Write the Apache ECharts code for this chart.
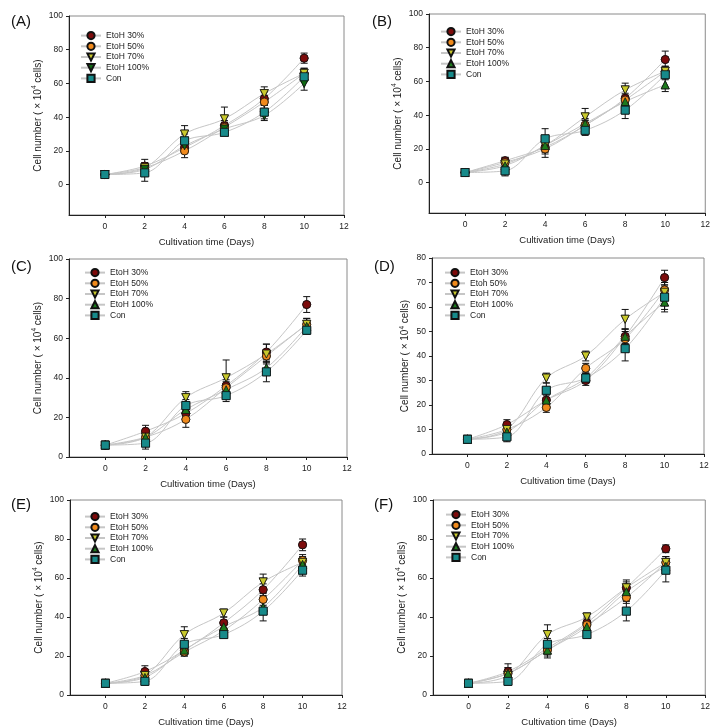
<!DOCTYPE html>
<html>
<head>
<meta charset="utf-8">
<script src="https://cdn.jsdelivr.net/npm/echarts@6/dist/echarts.min.js"></script>
<style>
  html, body { margin: 0; padding: 0; background: #fff; }
  #chart { width: 713px; height: 728px; }
</style>
</head>
<body>
<div id="chart"></div>
<script>
// x values and tick labels
var days = [0, 2, 4, 6, 8, 10];
var xTicks = [0, 2, 4, 6, 8, 10, 12];
var yTicks100 = [0, 20, 40, 60, 80, 100];
var yTicks80 = [0, 10, 20, 30, 40, 50, 60, 70, 80];

// (A)
var A30 = [6, 11, 22, 35, 51, 75],  A30e = [1, 4, 3, 3, 4, 3];
var A50 = [6, 10, 20, 34, 49, 66],  A50e = [1, 3, 4, 3, 4, 3];
var A70 = [6, 10, 30, 39, 54, 66],  A70e = [1, 3, 5, 7, 4, 3];
var A100 = [6, 9, 23, 33, 41, 60],  A100e = [1, 3, 3, 3, 3, 4];
var ACon = [6, 7, 26, 31, 43, 64],  AConE = [1, 5, 4, 2, 4, 3];
// (B)
var B30 = [6, 13, 21, 34, 50, 73],  B30e = [1, 2, 4, 3, 3, 5];
var B50 = [6, 12, 20, 34, 49, 66],  B50e = [1, 3, 5, 3, 3, 3];
var B70 = [6, 11, 22, 39, 55, 66],  B70e = [1, 3, 4, 5, 4, 3];
var B100 = [6, 10, 22, 35, 48, 58], B100e = [1, 3, 3, 3, 3, 4];
var BCon = [6, 7, 26, 31, 43, 64],  BConE = [2, 3, 6, 3, 5, 3];
// (C)
var C30 = [6, 13, 22, 36, 53, 77],  C30e = [1, 3, 3, 3, 4, 4];
var C50 = [6, 10, 19, 35, 51, 67],  C50e = [1, 3, 4, 3, 3, 3];
var C70 = [6, 10, 30, 40, 52, 67],  C70e = [1, 3, 3, 9, 5, 3];
var C100 = [6, 10, 24, 34, 45, 66], C100e = [1, 3, 3, 3, 3, 3];
var CCon = [6, 7, 26, 31, 43, 64],  CConE = [1, 3, 3, 3, 5, 2];
// (D)
var D30 = [6, 12, 22, 30, 48, 72],  D30e = [1, 2, 3, 2, 3, 3];
var D50 = [6, 10, 19, 35, 47, 67],  D50e = [1, 2, 2, 2, 3, 3];
var D70 = [6, 10, 31, 40, 55, 66],  D70e = [1, 2, 2, 2, 4, 3];
var D100 = [6, 9, 22, 31, 48, 62],  D100e = [1, 2, 2, 2, 3, 3];
var DCon = [6, 7, 26, 31, 43, 64],  DConE = [1, 2, 3, 2, 5, 6];
// (E)
var E30 = [6, 12, 23, 37, 54, 77],  E30e = [1, 3, 3, 3, 3, 3];
var E50 = [6, 10, 22, 33, 49, 69],  E50e = [1, 3, 2, 3, 3, 3];
var E70 = [6, 10, 31, 42, 58, 68],  E70e = [1, 3, 4, 2, 4, 3];
var E100 = [6, 9, 23, 35, 45, 67],  E100e = [1, 2, 2, 2, 3, 3];
var ECon = [6, 7, 26, 31, 43, 64],  EConE = [1, 2, 3, 2, 5, 3];
// (F)
var F30 = [6, 12, 24, 37, 55, 75],  F30e = [1, 4, 3, 3, 3, 2];
var F50 = [6, 11, 23, 36, 50, 68],  F50e = [1, 3, 3, 3, 3, 3];
var F70 = [6, 10, 31, 40, 55, 68],  F70e = [1, 3, 5, 2, 4, 3];
var F100 = [6, 11, 23, 35, 53, 66], F100e = [1, 3, 4, 3, 3, 3];
var FCon = [6, 7, 26, 31, 43, 64],  FConE = [1, 2, 3, 2, 5, 6];

var names = ['EtoH 30%', 'EtoH 50%', 'EtoH 70%', 'EtoH 100%', 'Con'];
var namesA = ['EtoH 30%', 'EtoH 50%', 'EtoH 70%', 'EtoH 100% ', 'Con']; // A uses a down triangle for 100%
var namesD = ['EtoH 30%', 'Etoh 50%', 'EtoH 70%', 'EtoH 100%', 'Con'];

var downTri = 'path://M0,0L10,0L5,9Z';
var colors = ['#7d0b0b', '#f08a1c', '#c9c92c', '#1c7a1c', '#178a8a'];
var symbols = ['circle', 'circle', downTri, 'triangle', 'rect'];

var panels = [
  {tag: '(A)', tx: 6, ty: 9, left: 69, top: 16, width: 275, height: 199, xMin: -1.8, yMin: -18, yMax: 100, yTicks: yTicks100,
   lg: [75, 26], names: namesA, means: [A30, A50, A70, A100, ACon], errs: [A30e, A50e, A70e, A100e, AConE], sym100: downTri, col100: '#0f6a12'},
  {tag: '(B)', tx: 367, ty: 9, left: 429, top: 14, width: 278, height: 199, xMin: -1.8, yMin: -18, yMax: 100, yTicks: yTicks100,
   lg: [435, 22], names: names, means: [B30, B50, B70, B100, BCon], errs: [B30e, B50e, B70e, B100e, BConE]},
  {tag: '(C)', tx: 6, ty: 254, left: 69, top: 259, width: 278, height: 198, xMin: -1.8, yMin: 0, yMax: 100, yTicks: yTicks100,
   lg: [79, 263], names: names, means: [C30, C50, C70, C100, CCon], errs: [C30e, C50e, C70e, C100e, CConE]},
  {tag: '(D)', tx: 369, ty: 254, left: 432, top: 258, width: 272, height: 196, xMin: -1.8, yMin: 0, yMax: 80, yTicks: yTicks80,
   lg: [439, 263], names: namesD, means: [D30, D50, D70, D100, DCon], errs: [D30e, D50e, D70e, D100e, DConE]},
  {tag: '(E)', tx: 6, ty: 492, left: 70, top: 500, width: 272, height: 195, xMin: -1.8, yMin: 0, yMax: 100, yTicks: yTicks100,
   lg: [79, 507], names: names, means: [E30, E50, E70, E100, ECon], errs: [E30e, E50e, E70e, E100e, EConE]},
  {tag: '(F)', tx: 369, ty: 492, left: 433, top: 500, width: 273, height: 195, xMin: -1.8, yMin: 0, yMax: 100, yTicks: yTicks100,
   lg: [440, 505], names: names, means: [F30, F50, F70, F100, FCon], errs: [F30e, F50e, F70e, F100e, FConE]}
];

var font = 'Liberation Sans, Arial, sans-serif';

function errRender(params, api) {
  var x = api.value(0);
  var top = api.coord([x, api.value(2)]);
  var bot = api.coord([x, api.value(1)]);
  var w = 3.5;
  var st = {stroke: '#111', lineWidth: 1};
  return {
    type: 'group',
    children: [
      {type: 'line', shape: {x1: top[0], y1: top[1], x2: bot[0], y2: bot[1]}, style: st},
      {type: 'line', shape: {x1: top[0] - w, y1: top[1], x2: top[0] + w, y2: top[1]}, style: st},
      {type: 'line', shape: {x1: bot[0] - w, y1: bot[1], x2: bot[0] + w, y2: bot[1]}, style: st}
    ]
  };
}

var option = {
  animation: false,
  backgroundColor: '#fff',
  textStyle: {fontFamily: font},
  title: [], grid: [], xAxis: [], yAxis: [], legend: [], series: []
};

panels.forEach(function (p, gi) {
  option.title.push({text: p.tag, left: p.tx, top: p.ty,
    textStyle: {fontSize: 15, fontWeight: 'normal', color: '#111', fontFamily: font}});
  option.grid.push({left: p.left, top: p.top, width: p.width, height: p.height,
    show: true, borderColor: '#8a8a8a', borderWidth: 1, backgroundColor: 'transparent'});
  option.xAxis.push({
    type: 'value', gridIndex: gi, min: p.xMin, max: 12,
    name: 'Cultivation time (Days)', nameLocation: 'middle', nameGap: 22,
    nameTextStyle: {fontSize: 9.5, color: '#222', fontFamily: font},
    axisLine: {onZero: false, lineStyle: {color: '#222', width: 1}},
    axisTick: {show: true, length: 3, lineStyle: {color: '#222'}, customValues: xTicks},
    axisLabel: {fontSize: 8.5, color: '#222', margin: 7, customValues: xTicks},
    splitLine: {show: false}
  });
  option.yAxis.push({
    type: 'value', gridIndex: gi, min: p.yMin, max: p.yMax,
    name: 'Cell number ( \u00d7 10{sup|4} cells)', nameLocation: 'middle', nameGap: 15,
    nameTextStyle: {fontSize: 10, color: '#222', fontFamily: font, lineHeight: 14,
      rich: {sup: {fontSize: 6.5, verticalAlign: 'top', lineHeight: 14, color: '#222', fontFamily: font}}},
    axisLine: {onZero: false, lineStyle: {color: '#222', width: 1}},
    axisTick: {show: true, length: 3, lineStyle: {color: '#222'}, customValues: p.yTicks},
    axisLabel: {fontSize: 8.5, color: '#222', margin: 6, customValues: p.yTicks},
    splitLine: {show: false}
  });
  option.legend.push({
    data: p.names, left: p.lg[0], top: p.lg[1], orient: 'vertical',
    itemWidth: 20, itemHeight: 9, itemGap: 1.5,
    textStyle: {fontSize: 8.5, color: '#222', lineHeight: 9, fontFamily: font},
    selectedMode: false
  });

  // lines (with symbols, used by the legend icons)
  p.names.forEach(function (nm, si) {
    var sym = symbols[si], col = colors[si];
    if (si === 3 && p.sym100) { sym = p.sym100; col = p.col100; }
    var pts = days.map(function (d, k) { return [d, p.means[si][k]]; });
    option.series.push({
      type: 'line', name: nm, xAxisIndex: gi, yAxisIndex: gi, z: 1,
      data: pts, smooth: 0.35, symbol: sym, symbolSize: 8,
      lineStyle: {color: '#c6c6c6', width: 1},
      itemStyle: {color: col, borderColor: '#111', borderWidth: 0.8}
    });
  });
  // error bars
  p.names.forEach(function (nm, si) {
    var ed = days.map(function (d, k) {
      return [d, p.means[si][k] - p.errs[si][k], p.means[si][k] + p.errs[si][k]];
    });
    option.series.push({
      type: 'custom', name: nm, xAxisIndex: gi, yAxisIndex: gi, z: 2,
      renderItem: errRender, data: ed, encode: {x: 0, y: [1, 2]}, silent: true
    });
  });
  // markers on top
  p.names.forEach(function (nm, si) {
    var sym = symbols[si], col = colors[si];
    if (si === 3 && p.sym100) { sym = p.sym100; col = p.col100; }
    var pts = days.map(function (d, k) { return [d, p.means[si][k]]; });
    option.series.push({
      type: 'scatter', name: nm, xAxisIndex: gi, yAxisIndex: gi, z: 3,
      data: pts, symbol: sym, symbolSize: 8,
      itemStyle: {color: col, borderColor: '#111', borderWidth: 0.8, opacity: 1}
    });
  });
});

var myChart = echarts.init(document.getElementById('chart'));
myChart.setOption(option);
</script>
</body>
</html>
